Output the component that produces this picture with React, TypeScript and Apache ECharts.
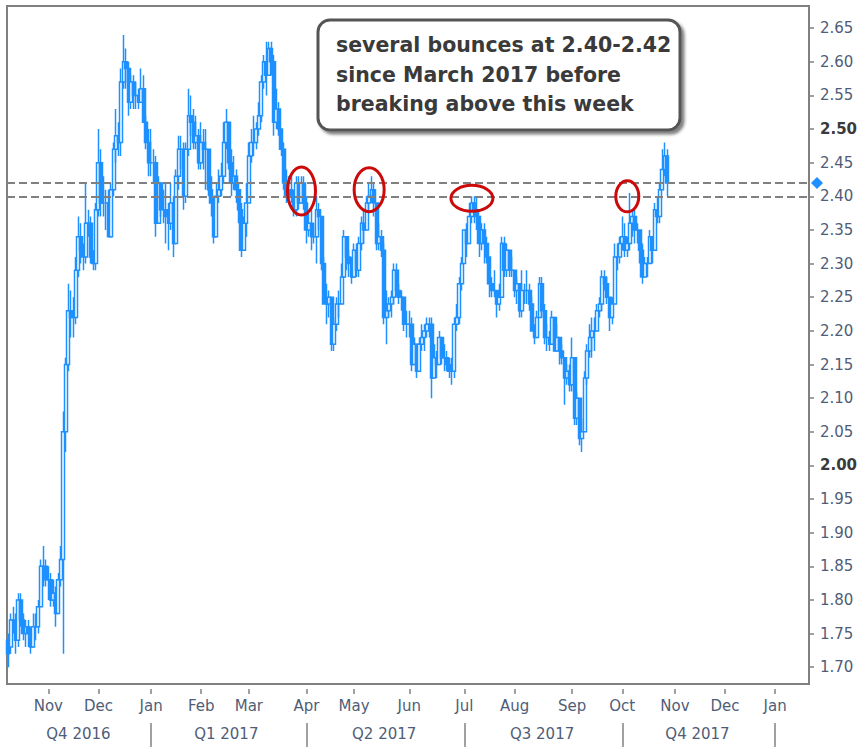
import React, { useEffect, useRef } from "react";
import * as echarts from "echarts";

// ---------- categories (bond-market trading days) ----------
const FIRST_DAY = "2016-10-07";
const DAY_COUNT = 320;
const HOLIDAYS = [
  "2016-10-10", "2016-11-11", "2016-11-24", "2016-12-26", "2017-01-02", "2017-01-16",
  "2017-02-20", "2017-04-14", "2017-05-29", "2017-07-04", "2017-09-04", "2017-10-09",
  "2017-11-10", "2017-11-23", "2017-12-25", "2018-01-01", "2018-01-15",
];
const MONTH_NAMES = ["Jan", "Feb", "Mar", "Apr", "May", "Jun", "Jul", "Aug", "Sep", "Oct", "Nov", "Dec"];
const QUARTER_LABELS = ["Q4 2016", "Q1 2017", "Q2 2017", "Q3 2017", "Q4 2017"];
const Y_TICKS = [1.7, 1.75, 1.8, 1.85, 1.9, 1.95, 2.0, 2.05, 2.1, 2.15, 2.2, 2.25, 2.3, 2.35, 2.4, 2.45, 2.5, 2.55, 2.6, 2.65];
const Y_BOLD = [2.0, 2.5];
const LEVELS = [2.42, 2.4];

// ---------- daily OHLC (Oct 7 2016 .. Oct 27 2017) ----------
const opens = [
  1.74, 1.73, 1.77, 1.77, 1.74, 1.80, 1.77, 1.75, 1.76, 1.75, 1.73, 1.76, 1.76, 1.79, 1.85, 1.85,
  1.83, 1.83, 1.80, 1.81, 1.78, 1.83, 1.86, 2.05, 2.15, 2.23, 2.22, 2.22, 2.29, 2.34, 2.32, 2.31, 2.36, 2.36, 2.31, 2.30,
  2.38, 2.45, 2.39, 2.39, 2.39, 2.34, 2.41, 2.47, 2.49, 2.48, 2.57, 2.60, 2.59, 2.54, 2.57, 2.55, 2.55, 2.54, 2.56, 2.51, 2.48,
  2.45, 2.45, 2.45, 2.36, 2.42, 2.38, 2.38, 2.37, 2.36, 2.39, 2.33, 2.43, 2.47, 2.47, 2.40, 2.47, 2.52, 2.51, 2.48, 2.49,
  2.45, 2.48, 2.47, 2.47, 2.41, 2.39, 2.34, 2.40, 2.41, 2.43, 2.48, 2.51, 2.45, 2.42, 2.43, 2.41, 2.38, 2.32, 2.36,
  2.39, 2.46, 2.48, 2.48, 2.50, 2.52, 2.57, 2.60, 2.58, 2.62, 2.60, 2.51, 2.53, 2.50, 2.47, 2.42, 2.40, 2.41, 2.40, 2.38, 2.42, 2.39, 2.42,
  2.39, 2.35, 2.36, 2.34, 2.34, 2.38, 2.37, 2.30, 2.24, 2.24, 2.25, 2.18, 2.21, 2.24, 2.24, 2.28, 2.34, 2.31, 2.30,
  2.28, 2.32, 2.29, 2.33, 2.36, 2.35, 2.39, 2.40, 2.41, 2.39, 2.33, 2.34, 2.32, 2.22, 2.23, 2.24, 2.25, 2.29, 2.26, 2.25, 2.25, 2.21,
  2.21, 2.21, 2.15, 2.18, 2.14, 2.18, 2.19, 2.20, 2.21, 2.21, 2.13, 2.16, 2.15, 2.19, 2.16, 2.16, 2.15, 2.14, 2.14, 2.21, 2.22, 2.27,
  2.30, 2.35, 2.33, 2.37, 2.39, 2.38, 2.37, 2.33, 2.35, 2.33, 2.31, 2.27, 2.26, 2.26, 2.24, 2.25, 2.33, 2.29, 2.32, 2.29,
  2.29, 2.26, 2.27, 2.23, 2.26, 2.26, 2.26, 2.24, 2.20, 2.19, 2.22, 2.27, 2.23, 2.19, 2.19, 2.18, 2.22, 2.17, 2.19, 2.17, 2.16, 2.13, 2.14,
  2.12, 2.16, 2.07, 2.10, 2.04, 2.05, 2.13, 2.17, 2.19, 2.20, 2.20, 2.23, 2.24, 2.28, 2.27, 2.25, 2.22, 2.24, 2.31, 2.31,
  2.33, 2.34, 2.32, 2.33, 2.36, 2.37, 2.35, 2.35, 2.32, 2.28, 2.30, 2.30, 2.34, 2.32, 2.38, 2.37, 2.41, 2.44, 2.46,
];
const highs = [
  1.75, 1.78, 1.79, 1.78, 1.81, 1.81, 1.78, 1.77, 1.77, 1.76, 1.78, 1.78, 1.80, 1.86, 1.88, 1.86,
  1.85, 1.84, 1.83, 1.82, 1.84, 1.88, 2.08, 2.16, 2.27, 2.26, 2.25, 2.31, 2.37, 2.36, 2.33, 2.42, 2.38, 2.37, 2.32, 2.39,
  2.50, 2.47, 2.43, 2.41, 2.41, 2.42, 2.48, 2.53, 2.51, 2.59, 2.64, 2.62, 2.60, 2.58, 2.58, 2.57, 2.56, 2.59, 2.58, 2.52, 2.50,
  2.50, 2.47, 2.46, 2.43, 2.42, 2.41, 2.42, 2.39, 2.42, 2.40, 2.44, 2.49, 2.49, 2.48, 2.48, 2.56, 2.55, 2.53, 2.52, 2.50,
  2.51, 2.50, 2.50, 2.47, 2.43, 2.40, 2.42, 2.44, 2.45, 2.51, 2.53, 2.51, 2.47, 2.46, 2.44, 2.42, 2.39, 2.37, 2.42,
  2.48, 2.50, 2.52, 2.51, 2.54, 2.58, 2.61, 2.63, 2.63, 2.63, 2.61, 2.56, 2.54, 2.50, 2.48, 2.44, 2.43, 2.43, 2.41, 2.43, 2.43, 2.43, 2.43,
  2.40, 2.38, 2.38, 2.36, 2.40, 2.39, 2.37, 2.31, 2.27, 2.26, 2.25, 2.22, 2.25, 2.26, 2.30, 2.35, 2.34, 2.32, 2.31,
  2.33, 2.33, 2.34, 2.37, 2.38, 2.40, 2.42, 2.43, 2.42, 2.39, 2.36, 2.35, 2.33, 2.26, 2.25, 2.26, 2.30, 2.30, 2.27, 2.26, 2.25, 2.23,
  2.23, 2.22, 2.19, 2.18, 2.19, 2.21, 2.21, 2.22, 2.22, 2.22, 2.18, 2.17, 2.20, 2.19, 2.18, 2.17, 2.16, 2.16, 2.22, 2.24, 2.28, 2.31,
  2.35, 2.36, 2.39, 2.40, 2.40, 2.40, 2.37, 2.36, 2.36, 2.34, 2.31, 2.28, 2.29, 2.26, 2.27, 2.34, 2.34, 2.33, 2.32, 2.31,
  2.29, 2.28, 2.27, 2.29, 2.27, 2.29, 2.27, 2.25, 2.21, 2.23, 2.28, 2.28, 2.24, 2.21, 2.20, 2.23, 2.22, 2.21, 2.19, 2.18, 2.16, 2.15, 2.15,
  2.19, 2.16, 2.11, 2.10, 2.07, 2.14, 2.18, 2.21, 2.22, 2.22, 2.24, 2.25, 2.29, 2.29, 2.28, 2.25, 2.25, 2.33, 2.33, 2.34,
  2.37, 2.36, 2.34, 2.405, 2.38, 2.38, 2.36, 2.35, 2.33, 2.31, 2.31, 2.35, 2.34, 2.39, 2.40, 2.42, 2.47, 2.48, 2.47,
];
const lows = [
  1.70, 1.72, 1.75, 1.72, 1.73, 1.76, 1.74, 1.73, 1.73, 1.72, 1.73, 1.74, 1.75, 1.79, 1.82, 1.82,
  1.80, 1.79, 1.79, 1.76, 1.78, 1.82, 1.72, 2.02, 2.14, 2.19, 2.19, 2.21, 2.28, 2.30, 2.29, 2.30, 2.34, 2.30, 2.29, 2.29,
  2.37, 2.37, 2.37, 2.35, 2.34, 2.34, 2.40, 2.45, 2.46, 2.46, 2.56, 2.56, 2.52, 2.53, 2.53, 2.53, 2.53, 2.54, 2.51, 2.47, 2.43,
  2.43, 2.42, 2.34, 2.36, 2.37, 2.36, 2.33, 2.32, 2.35, 2.31, 2.33, 2.41, 2.44, 2.38, 2.39, 2.46, 2.49, 2.47, 2.47, 2.44,
  2.44, 2.44, 2.41, 2.40, 2.37, 2.33, 2.34, 2.39, 2.40, 2.42, 2.47, 2.44, 2.40, 2.41, 2.39, 2.36, 2.31, 2.32, 2.34,
  2.39, 2.45, 2.46, 2.47, 2.49, 2.51, 2.56, 2.55, 2.58, 2.58, 2.49, 2.50, 2.49, 2.46, 2.41, 2.39, 2.39, 2.39, 2.37, 2.37, 2.38, 2.39, 2.38,
  2.33, 2.34, 2.32, 2.33, 2.30, 2.35, 2.29, 2.24, 2.21, 2.22, 2.17, 2.17, 2.20, 2.22, 2.24, 2.28, 2.29, 2.28, 2.27,
  2.28, 2.28, 2.28, 2.32, 2.33, 2.35, 2.38, 2.39, 2.37, 2.32, 2.32, 2.31, 2.21, 2.18, 2.22, 2.22, 2.24, 2.25, 2.24, 2.23, 2.20, 2.19,
  2.19, 2.14, 2.15, 2.13, 2.14, 2.17, 2.17, 2.19, 2.19, 2.10, 2.13, 2.13, 2.15, 2.15, 2.14, 2.14, 2.13, 2.12, 2.13, 2.20, 2.21, 2.26,
  2.30, 2.31, 2.33, 2.36, 2.36, 2.35, 2.31, 2.32, 2.30, 2.30, 2.25, 2.25, 2.25, 2.22, 2.23, 2.25, 2.28, 2.28, 2.28, 2.28,
  2.25, 2.24, 2.22, 2.22, 2.24, 2.24, 2.23, 2.20, 2.18, 2.19, 2.22, 2.22, 2.18, 2.17, 2.17, 2.18, 2.17, 2.17, 2.15, 2.15, 2.09, 2.12, 2.11,
  2.11, 2.06, 2.06, 2.03, 2.02, 2.05, 2.12, 2.16, 2.16, 2.17, 2.20, 2.22, 2.23, 2.26, 2.24, 2.20, 2.21, 2.24, 2.29, 2.30,
  2.32, 2.31, 2.31, 2.32, 2.34, 2.33, 2.33, 2.30, 2.27, 2.28, 2.28, 2.30, 2.30, 2.32, 2.36, 2.36, 2.41, 2.43, 2.40,
];
const closes = [
  1.72, 1.77, 1.77, 1.74, 1.80, 1.77, 1.75, 1.76, 1.75, 1.73, 1.76, 1.76, 1.79, 1.85, 1.85, 1.83,
  1.83, 1.80, 1.81, 1.78, 1.83, 1.86, 2.05, 2.15, 2.23, 2.22, 2.22, 2.29, 2.34, 2.32, 2.31, 2.36, 2.36, 2.31, 2.30, 2.38,
  2.45, 2.39, 2.39, 2.39, 2.34, 2.41, 2.47, 2.49, 2.48, 2.57, 2.60, 2.59, 2.54, 2.57, 2.55, 2.55, 2.54, 2.56, 2.51, 2.48, 2.45,
  2.45, 2.45, 2.36, 2.42, 2.38, 2.38, 2.37, 2.36, 2.39, 2.33, 2.43, 2.47, 2.47, 2.40, 2.47, 2.52, 2.51, 2.48, 2.49, 2.45,
  2.48, 2.47, 2.47, 2.41, 2.39, 2.34, 2.40, 2.41, 2.43, 2.48, 2.51, 2.45, 2.42, 2.43, 2.41, 2.38, 2.32, 2.36, 2.39,
  2.46, 2.48, 2.48, 2.50, 2.52, 2.57, 2.60, 2.58, 2.62, 2.60, 2.51, 2.53, 2.50, 2.47, 2.42, 2.40, 2.41, 2.40, 2.38, 2.42, 2.39, 2.42, 2.39,
  2.35, 2.36, 2.34, 2.34, 2.38, 2.37, 2.30, 2.24, 2.24, 2.25, 2.18, 2.21, 2.24, 2.24, 2.28, 2.34, 2.31, 2.30, 2.28,
  2.32, 2.29, 2.33, 2.36, 2.35, 2.39, 2.40, 2.41, 2.39, 2.33, 2.34, 2.32, 2.22, 2.23, 2.24, 2.25, 2.29, 2.26, 2.25, 2.25, 2.21, 2.21,
  2.21, 2.15, 2.18, 2.14, 2.18, 2.19, 2.20, 2.21, 2.21, 2.13, 2.16, 2.15, 2.19, 2.16, 2.16, 2.15, 2.14, 2.14, 2.21, 2.22, 2.27, 2.30,
  2.35, 2.33, 2.37, 2.39, 2.38, 2.37, 2.33, 2.35, 2.33, 2.31, 2.27, 2.26, 2.26, 2.24, 2.25, 2.33, 2.29, 2.32, 2.29, 2.29,
  2.26, 2.27, 2.23, 2.26, 2.26, 2.26, 2.24, 2.20, 2.19, 2.22, 2.27, 2.23, 2.19, 2.19, 2.18, 2.22, 2.17, 2.19, 2.17, 2.16, 2.13, 2.14, 2.12,
  2.16, 2.07, 2.10, 2.04, 2.05, 2.13, 2.17, 2.19, 2.20, 2.20, 2.23, 2.24, 2.28, 2.27, 2.25, 2.22, 2.24, 2.31, 2.31, 2.33,
  2.34, 2.32, 2.33, 2.36, 2.37, 2.35, 2.35, 2.32, 2.28, 2.30, 2.30, 2.34, 2.32, 2.38, 2.37, 2.41, 2.44, 2.46, 2.42,
];

// ---------- annotation texts & circled touches ----------
const NOTE_LINES = ["several bounces at 2.40-2.42", "since March 2017 before", "breaking above this week"];
const TOUCH_DATES = ["2017-03-30", "2017-05-09", "2017-07-07", "2017-10-04"];
const TOUCH_VALUES = [2.408, 2.41, 2.397, 2.4];

const BLUE = "#1e90ff";
const GRAY = "#808080";
const LABEL = "#4f5d78";
const FONT = "DejaVu Sans";

function buildDates(): string[] {
  const out: string[] = [];
  const [y, m, d] = FIRST_DAY.split("-").map(Number);
  let t = Date.UTC(y, m - 1, d);
  while (out.length < DAY_COUNT) {
    const dt = new Date(t);
    const wd = dt.getUTCDay();
    const s = dt.toISOString().slice(0, 10);
    if (wd !== 0 && wd !== 6 && !HOLIDAYS.includes(s)) out.push(s);
    t += 86400000;
  }
  return out;
}

export default function App() {
  const ref = useRef<HTMLDivElement>(null);

  useEffect(() => {
    document.body.style.margin = "0";
    const dates = buildDates();
    const monthStart = dates.map((s, i) => i > 0 && s.slice(5, 7) !== dates[i - 1].slice(5, 7));
    const quarterStart = dates.map(
      (s, i) => monthStart[i] && ["01", "04", "07", "10"].includes(s.slice(5, 7))
    );
    const bounds = [0];
    quarterStart.forEach((q, i) => q && bounds.push(i));
    const quarterMid: Record<number, string> = {};
    QUARTER_LABELS.forEach((lab, k) => {
      const a = bounds[k];
      const b = k + 1 < bounds.length ? bounds[k + 1] : dates.length;
      quarterMid[Math.floor((a + b - 1) / 2)] = lab;
    });

    const candles = opens.map((o, i) => [o, closes[i], lows[i], highs[i]]);

    const chart = echarts.init(ref.current!, null, { renderer: "svg" });
    chart.setOption({
      animation: false,
      backgroundColor: "#ffffff",
      grid: {
        left: 7, right: 56, top: 6, bottom: 65,
        show: true, borderColor: GRAY, borderWidth: 2, backgroundColor: "transparent",
      },
      xAxis: [
        {
          type: "category",
          data: dates,
          boundaryGap: true,
          position: "bottom",
          offset: 5,
          axisLine: { show: false },
          axisTick: {
            show: true, alignWithLabel: true, length: 5,
            interval: (i: number) => monthStart[i],
            lineStyle: { color: GRAY, width: 1.5 },
          },
          axisLabel: {
            interval: (i: number) => monthStart[i],
            formatter: (v: string) => MONTH_NAMES[Number(v.slice(5, 7)) - 1],
            color: LABEL, fontFamily: FONT, fontSize: 15, margin: 9,
          },
          splitLine: { show: false },
        },
        {
          type: "category",
          data: dates,
          boundaryGap: true,
          position: "bottom",
          offset: 39,
          axisLine: { show: false },
          axisTick: {
            show: true, alignWithLabel: true, length: 24,
            interval: (i: number) => quarterStart[i],
            lineStyle: { color: GRAY, width: 1.5 },
          },
          axisLabel: {
            interval: (i: number) => quarterMid[i] !== undefined,
            formatter: (_v: string, i: number) => quarterMid[i] || "",
            color: LABEL, fontFamily: FONT, fontSize: 15, margin: 3,
          },
          splitLine: { show: false },
        },
      ],
      yAxis: {
        type: "value",
        position: "right",
        min: 1.675,
        max: 2.683,
        axisLine: { show: false },
        splitLine: { show: false },
        axisTick: {
          show: true, length: 5, customValues: Y_TICKS,
          lineStyle: { color: GRAY, width: 1.5 },
        },
        axisLabel: {
          customValues: Y_TICKS,
          margin: 11,
          color: LABEL, fontFamily: FONT, fontSize: 15,
          formatter: (v: number) => {
            const t = v.toFixed(2);
            return Y_BOLD.some((b) => Math.abs(b - v) < 1e-6) ? `{b|${t}}` : t;
          },
          rich: { b: { fontWeight: "bold", color: "#3a3a3a", fontFamily: FONT, fontSize: 15 } },
        },
      },
      series: [
        {
          type: "line",
          data: [],
          z: 1,
          markLine: {
            silent: true,
            symbol: ["none", "none"],
            label: { show: false },
            lineStyle: { color: GRAY, type: [8, 4], width: 2 },
            data: LEVELS.map((v) => ({ yAxis: v })),
          },
        },
        {
          type: "candlestick",
          data: candles,
          z: 3,
          barWidth: 3.5,
          itemStyle: {
            color: "#ffffff",
            color0: BLUE,
            borderColor: BLUE,
            borderColor0: BLUE,
            borderWidth: 1.5,
          },
        },
      ],
    });

    const toPx = (d: string, v: number) =>
      chart.convertToPixel({ seriesIndex: 1 }, [dates.indexOf(d), v]) as number[];
    const ellRadii = [[14, 24], [15, 22], [21, 13], [11.5, 15.5]];
    const ellipses = TOUCH_DATES.map((d, k) => {
      const [cx, cy] = toPx(d, TOUCH_VALUES[k]);
      return {
        type: "ellipse",
        shape: { cx, cy, rx: ellRadii[k][0], ry: ellRadii[k][1] },
        style: { fill: "none", stroke: "#cc0a0a", lineWidth: 3 },
        z: 20,
      };
    });
    const last = closes[closes.length - 1];
    const [, dy] = toPx(dates[0], last);
    const dx = 865 - 56 + 8;
    const diamond = {
      type: "polygon",
      shape: { points: [[dx, dy - 6], [dx + 6, dy], [dx, dy + 6], [dx - 6, dy]] },
      style: { fill: BLUE },
      z: 20,
    };

    chart.setOption({
      graphic: [
        {
          type: "rect",
          shape: { x: 318, y: 20, width: 362, height: 110, r: 12 },
          style: {
            fill: "#ffffff", stroke: "#555555", lineWidth: 3,
            shadowBlur: 3, shadowOffsetX: 3, shadowOffsetY: 3, shadowColor: "rgba(0,0,0,0.5)",
          },
          z: 30,
        },
        ...NOTE_LINES.map((line, k) => ({
          type: "text",
          x: 336,
          y: 45 + k * 29.5,
          style: {
            text: line, fill: "#3a3a3a", font: `bold 20.5px "${FONT}"`,
            textVerticalAlign: "middle", verticalAlign: "middle",
          },
          z: 31,
        })),
        ...ellipses,
        diamond,
      ],
    });

    return () => chart.dispose();
  }, []);

  return (
    <div
      ref={ref}
      style={{ position: "fixed", left: 0, top: 0, width: 865, height: 749, background: "#ffffff" }}
    />
  );
}
